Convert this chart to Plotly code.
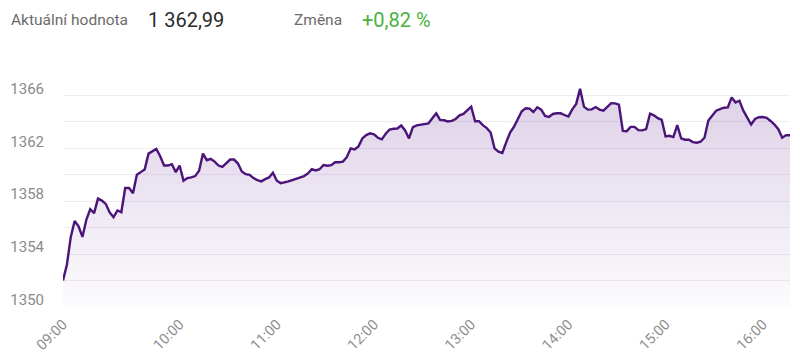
import plotly.graph_objects as go

# ---- data ----
FIRST_HOUR_MINUTES = list(range(0, 60, 2))  # 09:00 - 09:58, 2-minute samples
LATER_MINUTES = [0, 2, 5, 7, 10, 12, 14, 17, 19, 22, 24, 26, 29, 31, 34, 36,
                 38, 41, 43, 46, 48, 50, 53, 55, 58]
times = ([f"09:{m:02d}" for m in FIRST_HOUR_MINUTES]
         + [f"{h:02d}:{m:02d}" for h in range(10, 16) for m in LATER_MINUTES]
         + [f"16:{m:02d}" for m in LATER_MINUTES[:8]])

values = [
    1352.0, 1353.2, 1355.3, 1356.5, 1356.1, 1355.3, 1356.6, 1357.4, 1357.1, 1358.2,
    1358.05, 1357.8, 1357.15, 1356.8, 1357.3, 1357.17, 1359.0, 1359.0, 1358.6, 1360.0,
    1360.2, 1360.4, 1361.6, 1361.75, 1361.95, 1361.4, 1360.7, 1360.7, 1360.8, 1360.2,
    1360.7, 1359.55, 1359.75, 1359.8, 1359.9, 1360.3, 1361.6, 1361.1, 1361.2, 1361.0,
    1360.7, 1360.6, 1360.9, 1361.15, 1361.15, 1360.85, 1360.25, 1360.05, 1360.0, 1359.75,
    1359.6, 1359.5, 1359.67, 1359.8, 1360.15, 1359.55, 1359.37, 1359.42, 1359.5, 1359.6,
    1359.72, 1359.78, 1359.9, 1360.1, 1360.43, 1360.33, 1360.42, 1360.74, 1360.68, 1360.73,
    1360.95, 1360.95, 1361.0, 1361.33, 1362.0, 1361.92, 1362.15, 1362.75, 1363.0, 1363.13,
    1363.05, 1362.8, 1362.68, 1363.1, 1363.42, 1363.48, 1363.5, 1363.73, 1363.35, 1362.75,
    1363.6, 1363.74, 1363.78, 1363.84, 1363.88, 1364.28, 1364.65, 1364.15, 1364.12, 1364.03,
    1364.08, 1364.22, 1364.5, 1364.6, 1364.85, 1365.15, 1364.05, 1364.05, 1363.75, 1363.53,
    1363.2, 1362.0, 1361.75, 1361.65, 1362.45, 1363.2, 1363.63, 1364.2, 1364.8, 1365.03,
    1365.0, 1364.75, 1365.1, 1364.92, 1364.45, 1364.38, 1364.6, 1364.65, 1364.65, 1364.52,
    1364.4, 1364.95, 1365.36, 1366.5, 1365.15, 1364.93, 1364.95, 1365.12, 1364.93, 1364.85,
    1365.13, 1365.42, 1365.4, 1365.3, 1363.32, 1363.3, 1363.62, 1363.62, 1363.38, 1363.36,
    1363.45, 1364.63, 1364.5, 1364.28, 1364.15, 1362.9, 1362.95, 1362.85, 1363.75, 1362.75,
    1362.65, 1362.65, 1362.47, 1362.42, 1362.5, 1362.8, 1364.1, 1364.5, 1364.85, 1364.96,
    1365.07, 1365.1, 1365.85, 1365.47, 1365.6, 1364.85, 1364.32, 1363.8, 1364.22, 1364.35,
    1364.37, 1364.3, 1364.07, 1363.8, 1363.45, 1362.8, 1363.0, 1362.99,
]
assert len(times) == len(values)

tick_labels = ["09:00", "10:00", "11:00", "12:00", "13:00", "14:00", "15:00", "16:00"]

current_label = "Aktuální hodnota"
current_value = "1 362,99"
change_label = "Změna"
change_value = "+0,82 %"

Y_MIN, Y_MAX = 1350, 1368

# ---- figure ----
LINE = "#4a1479"
FONT = "Roboto"
PAGE_OFFSET = 8  # the HTML body margin shifts the figure by 8 px

# plot area wanted at page x 63..790, y 69..307
fig = go.Figure()
fig.add_trace(go.Scatter(
    x=times, y=values, mode="lines",
    line=dict(color=LINE, width=2.4),
    fill="tozeroy",
    fillgradient=dict(
        type="vertical",
        start=Y_MIN, stop=1366.5,
        colorscale=[[0, "rgba(120,70,160,0.02)"], [1, "rgba(120,70,160,0.25)"]],
    ),
    hoverinfo="x+y",
))

fig.update_layout(
    width=800, height=364,
    margin=dict(l=63 - PAGE_OFFSET, r=800 - 790 + PAGE_OFFSET,
                t=69 - PAGE_OFFSET, b=364 - 307 + PAGE_OFFSET),
    paper_bgcolor="white", plot_bgcolor="white",
    showlegend=False,
    font=dict(family=FONT, color="#777"),
    xaxis=dict(
        type="category",
        range=[0, len(times) - 1],
        tickmode="array",
        tickvals=tick_labels,
        ticktext=tick_labels,
        tickangle=-45,
        tickfont=dict(size=14.5, color="#8f8f8f"),
        showgrid=False, zeroline=False, showline=False,
        ticks="",
        ticklabelstandoff=5,
        automargin=False,
    ),
    yaxis=dict(
        range=[Y_MIN, Y_MAX],
        tick0=Y_MIN, dtick=4,
        tickfont=dict(size=15, color="#8a8a8a"),
        showgrid=True, gridcolor="#ededf2", gridwidth=1,
        minor=dict(dtick=2, showgrid=True, gridcolor="#ededf2", gridwidth=1),
        zeroline=False, showline=False,
        ticks="",
        ticklabelshift=-7,
        ticklabelstandoff=18,
        automargin=False,
    ),
)

def header(text, px, size, color):
    fig.add_annotation(
        text=text, xref="paper", yref="paper",
        x=(px - 63) / 727, y=1 + (69 - 20) / 238,
        xanchor="left", yanchor="middle", showarrow=False,
        font=dict(family=FONT, size=size, color=color),
    )

header(current_label, 10 - 1, 15.5, "#6b6b6b")
header(current_value, 147 - 1, 20, "#2b2b2b")
header(change_label, 293 - 1, 15.5, "#6b6b6b")
header(change_value, 361 - 1, 20, "#46b33e")

fig.write_html("out.html")
